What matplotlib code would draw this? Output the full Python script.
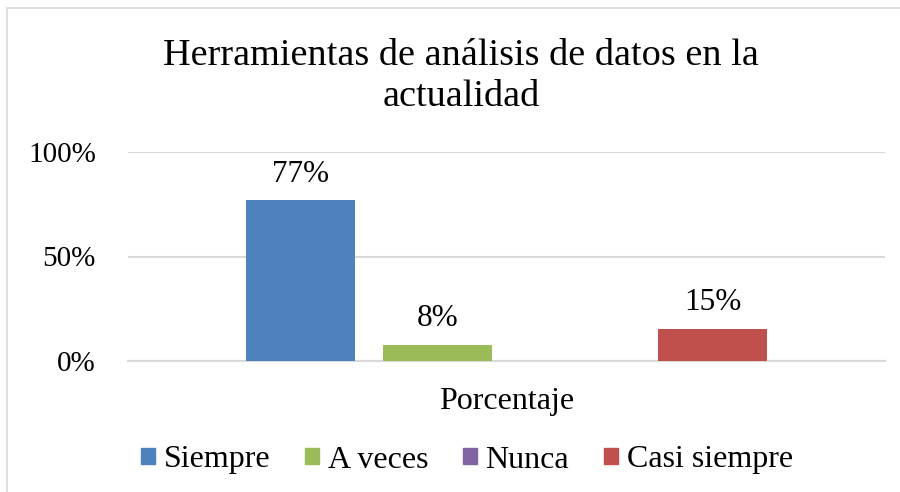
import matplotlib.pyplot as plt
from matplotlib.lines import Line2D
from matplotlib.patches import Patch

series = ["Siempre", "A veces", "Nunca", "Casi siempre"]
values = [0.769, 0.077, 0.0, 0.154]
labels = ["77%", "8%", "", "15%"]
category = ["Porcentaje"]
colors = ["#4F81BD", "#9BBB59", "#8064A2", "#C0504D"]

plt.rcParams['font.family'] = ['Liberation Serif', 'DejaVu Serif']

fig = plt.figure(figsize=(9, 4.92), dpi=100)
ax = fig.add_axes([128 / 900, 1 - 361 / 492, 757 / 900, 209 / 492])

width = 0.144
step = 0.1815
for i, (name, v) in enumerate(zip(series, values)):
    x = (i - 1.5) * step
    ax.bar(x, v, width=width, color=colors[i], label=name, zorder=3)
    if labels[i]:
        ax.text(x, v + 0.055, labels[i], ha="center", va="bottom", fontsize=22.5)

ax.set_xlim(-0.5, 0.5)
ax.set_ylim(0, 1)
ax.set_yticks([0, 0.5, 1])
ax.set_yticklabels(["0%", "50%", "100%"], fontsize=21)
ax.set_xticks([0])
ax.set_xticklabels(category, fontsize=23)
ax.tick_params(axis="y", length=0, pad=23)
ax.tick_params(axis="x", length=0, pad=19)
ax.yaxis.grid(True, color="#d9d9d9", lw=1.5, zorder=0)
for s in ["top", "right", "left"]:
    ax.spines[s].set_visible(False)
ax.spines["bottom"].set_color("#d9d9d9")
ax.spines["bottom"].set_linewidth(1.5)

fig.text(461 / 900, 1 - 76 / 492, "Herramientas de análisis de datos en la\nactualidad",
         ha="center", va="center", fontsize=27.5, linespacing=1.25)

handles = [Patch(color=c) for c in colors]
fig.legend(handles, series, loc="center", bbox_to_anchor=(467 / 900, 1 - 460 / 492),
           ncol=4, frameon=False, fontsize=23, handlelength=0.42, handleheight=0.42,
           handletextpad=0.28, columnspacing=1.1)

# chart border
fig.add_artist(Line2D([7 / 900, 7 / 900], [0, 1 - 8 / 492], color="#d9d9d9", lw=1.2))
fig.add_artist(Line2D([7 / 900, 1], [1 - 8 / 492, 1 - 8 / 492], color="#d9d9d9", lw=1.2))

fig.savefig("out.png", dpi=100)
